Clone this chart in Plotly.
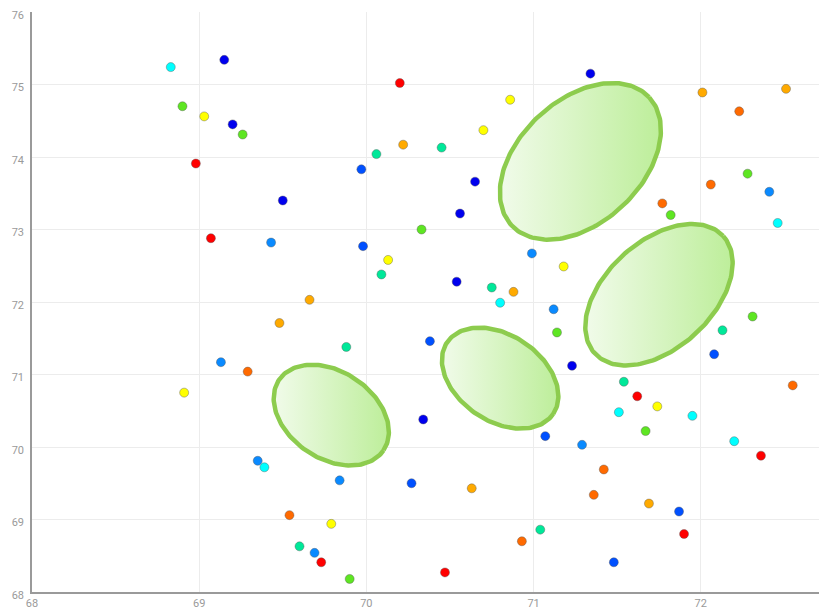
import numpy as np
import plotly.graph_objects as go

# ---- data ----
red_x = [68.98, 69.07, 70.20, 71.62, 72.36, 71.90, 69.73, 70.47]
red_y = [73.91, 72.88, 75.02, 70.70, 69.88, 68.80, 68.41, 68.27]

orange_x = [72.23, 72.06, 71.77, 69.29, 72.55, 71.42, 71.36, 70.93, 69.54]
orange_y = [74.63, 73.62, 73.36, 71.04, 70.85, 69.69, 69.34, 68.70, 69.06]

amber_x = [72.01, 72.51, 70.22, 69.66, 69.48, 70.88, 70.63, 71.69]
amber_y = [74.89, 74.94, 74.17, 72.03, 71.71, 72.14, 69.43, 69.22]

yellow_x = [69.03, 70.86, 70.70, 70.13, 71.18, 68.91, 71.74, 69.79]
yellow_y = [74.56, 74.79, 74.37, 72.58, 72.49, 70.75, 70.56, 68.94]

green_x = [68.90, 69.26, 70.33, 71.82, 72.28, 71.14, 72.31, 71.67, 69.90]
green_y = [74.70, 74.31, 73.00, 73.20, 73.77, 71.58, 71.80, 70.22, 68.18]

teal_x = [70.06, 70.45, 70.09, 70.75, 69.88, 72.13, 71.54, 71.04, 69.60]
teal_y = [74.04, 74.13, 72.38, 72.20, 71.38, 71.61, 70.90, 68.86, 68.63]

cyan_x = [68.83, 72.46, 70.80, 71.51, 71.95, 72.20, 69.39]
cyan_y = [75.24, 73.09, 71.99, 70.48, 70.43, 70.08, 69.72]

azure_x = [69.43, 70.99, 71.12, 72.41, 69.13, 71.29, 69.35, 69.84, 69.69]
azure_y = [72.82, 72.67, 71.90, 73.52, 71.17, 70.03, 69.81, 69.54, 68.54]

blue_x = [69.97, 69.98, 70.38, 72.08, 71.07, 70.27, 71.87, 71.48]
blue_y = [73.83, 72.77, 71.46, 71.28, 70.15, 69.50, 69.11, 68.41]

navy_x = [69.15, 69.20, 71.34, 70.65, 69.50, 70.56, 70.54, 71.23, 70.34]
navy_y = [75.34, 74.45, 75.15, 73.66, 73.40, 73.22, 72.28, 71.12, 70.38]

# highlight ellipses: centre (data), semi-axes (screen px), tilt (deg, screen)
ell_cx = [71.28, 71.75, 70.80, 69.79]
ell_cy = [73.94, 72.10, 70.95, 70.44]
ell_a = [94, 87, 64, 63]
ell_b = [61.5, 53.5, 43, 43.5]
ell_angle = [43, 42.4, -34, -34]

x_ticks = [68, 69, 70, 71, 72]
y_ticks = [68, 69, 70, 71, 72, 73, 74, 75, 76]

# ---- layout geometry (page body adds an 8px offset) ----
W, H = 819, 603
ML, MR, MT, MB = 24, 0, 4, 19
X_RANGE = [68, 72.755]
Y_RANGE = [68, 76]
kx = (W - ML - MR) / (X_RANGE[1] - X_RANGE[0])
ky = (H - MT - MB) / (Y_RANGE[1] - Y_RANGE[0])

series = [
    (red_x, red_y, "#ff0000"),
    (orange_x, orange_y, "#ff6a00"),
    (amber_x, amber_y, "#ffaa00"),
    (yellow_x, yellow_y, "#ffff00"),
    (green_x, green_y, "#5ee622"),
    (teal_x, teal_y, "#00e899"),
    (cyan_x, cyan_y, "#00ffff"),
    (azure_x, azure_y, "#0a8aff"),
    (blue_x, blue_y, "#0050ff"),
    (navy_x, navy_y, "#0000ee"),
]

fig = go.Figure()
for xs, ys, col in series:
    fig.add_trace(go.Scatter(
        x=xs, y=ys, mode="markers",
        marker=dict(size=9, color=col, line=dict(width=0.6, color="rgba(90,90,90,0.7)")),
        showlegend=False, hoverinfo="x+y", cliponaxis=False,
    ))

t = np.linspace(0, 2 * np.pi, 181)
for cx, cy, a, b, ang in zip(ell_cx, ell_cy, ell_a, ell_b, ell_angle):
    th = np.deg2rad(ang)
    dx = a * np.cos(t) * np.cos(th) - b * np.sin(t) * np.sin(th)
    dy = a * np.cos(t) * np.sin(th) + b * np.sin(t) * np.cos(th)
    fig.add_trace(go.Scatter(
        x=cx + dx / kx, y=cy + dy / ky, mode="lines",
        line=dict(color="#8dcc4e", width=4.5),
        fill="toself",
        fillgradient=dict(type="horizontal",
                          colorscale=[[0, "#f1fbea"], [1, "#bdee9a"]]),
        showlegend=False, hoverinfo="skip",
    ))

fig.update_layout(
    width=W, height=H,
    margin=dict(l=ML, r=MR, t=MT, b=MB, autoexpand=False),
    paper_bgcolor="white", plot_bgcolor="white",
    font=dict(family="Roboto, Arial, sans-serif", size=11, color="#9a9a9a"),
    showlegend=False,
)
fig.update_xaxes(
    range=X_RANGE, tickvals=x_ticks, ticktext=[str(v) for v in x_ticks],
    showgrid=True, gridcolor="#ececec", gridwidth=1,
    showline=True, linecolor="#9a9a9a", linewidth=1.5,
    zeroline=False, ticks="", ticklabelstandoff=0, automargin=False,
    ticklabeloverflow="allow",
)
fig.update_yaxes(
    range=Y_RANGE, tickvals=y_ticks, ticktext=[str(v) for v in y_ticks],
    showgrid=True, gridcolor="#ececec", gridwidth=1,
    showline=True, linecolor="#9a9a9a", linewidth=1.5,
    zeroline=False, ticks="", ticklabelstandoff=4, automargin=False,
    ticklabeloverflow="allow", ticklabelshift=3,
)

fig.write_html("out.html")
